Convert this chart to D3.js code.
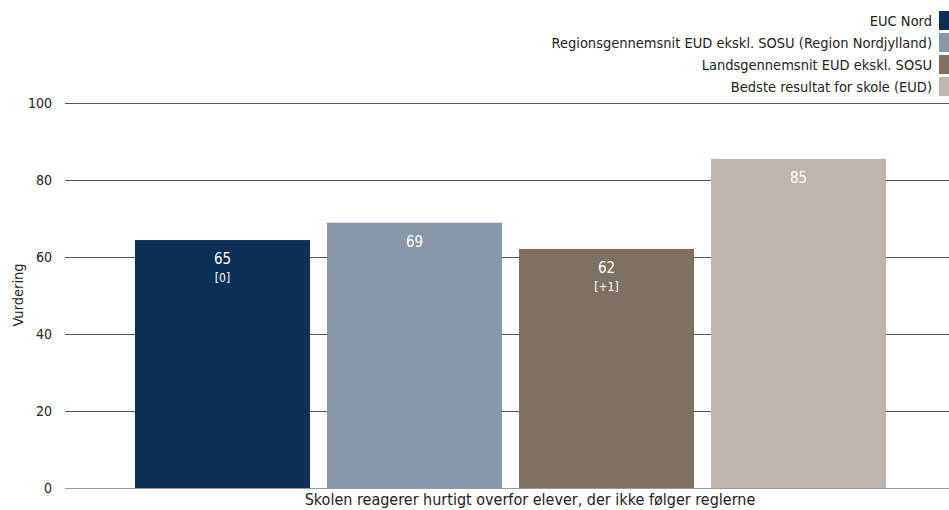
<!DOCTYPE html>
<html><head><meta charset="utf-8">
<script src="https://cdn.jsdelivr.net/npm/d3@7/dist/d3.min.js"></script>
<style>body{margin:0;background:#fff;overflow:hidden}svg{display:block;font-family:"DejaVu Sans Condensed","DejaVu Sans",sans-serif}</style>
</head><body><svg id="c" width="949" height="510"></svg>
<script>
const category = "Skolen reagerer hurtigt overfor elever, der ikke følger reglerne";
const series = ["EUC Nord","Regionsgennemsnit EUD ekskl. SOSU (Region Nordjylland)","Landsgennemsnit EUD ekskl. SOSU","Bedste resultat for skole (EUD)"];
const values = [64.4, 68.9, 62.1, 85.5];
const valueLabels = ["65","69","62","85"];
const changeLabels = ["[0]","","[+1]",""];
const colors = ["#0b2f56","#8798ad","#7e7161","#beb5af"];
const yTicks = [0,20,40,60,80,100];

const svg = d3.select("#c");
const y = d3.scaleLinear().domain([0,100]).range([488,103]);
const x = d3.scaleBand().domain(series).range([118,903]).padding(17/192);

// gridlines
svg.append("g").selectAll("line").data(yTicks).join("line")
  .attr("x1",65).attr("x2",949).attr("y1",d=>y(d)+0.5).attr("y2",d=>y(d)+0.5)
  .attr("stroke",d=>d===0?"#999":"#555").attr("stroke-width",1);
svg.append("g").selectAll("text").data(yTicks).join("text")
  .attr("x",52).attr("y",d=>y(d)).attr("dy","0.36em").attr("text-anchor","end")
  .attr("font-size",14).attr("fill","#222").text(d=>d);

// bars
const g = svg.append("g");
g.selectAll("rect").data(series).join("rect")
  .attr("x",d=>x(d)).attr("width",x.bandwidth())
  .attr("y",(d,i)=>y(values[i])).attr("height",(d,i)=>y(0)-y(values[i]))
  .attr("fill",(d,i)=>colors[i]);
g.selectAll("text.v").data(series).join("text").attr("class","v")
  .attr("x",d=>x(d)+x.bandwidth()/2).attr("y",(d,i)=>y(values[i])+24)
  .attr("text-anchor","middle").attr("font-size",15).attr("fill","#fff").text((d,i)=>valueLabels[i]);
g.selectAll("text.c").data(series).join("text").attr("class","c")
  .attr("x",d=>x(d)+x.bandwidth()/2).attr("y",(d,i)=>y(values[i])+42)
  .attr("text-anchor","middle").attr("font-size",12).attr("fill","#fff").text((d,i)=>changeLabels[i]);

// x label
svg.append("text").attr("x",530).attr("y",505).attr("text-anchor","middle")
  .attr("font-size",16).attr("fill","#222").text(category);
// y title
svg.append("text").attr("transform","translate(23,295) rotate(-90)").attr("text-anchor","middle")
  .attr("font-size",14.5).attr("fill","#222").text("Vurdering");

// legend
const lg = svg.append("g");
series.forEach((s,i)=>{
  const cy = 20.5 + i*22;
  lg.append("rect").attr("x",939).attr("y",cy-9.5).attr("width",12).attr("height",19).attr("fill",colors[i]);
  lg.append("text").attr("x",932).attr("y",cy).attr("dy","0.36em").attr("text-anchor","end")
    .attr("font-size",14.5).attr("fill","#222").text(s);
});
</script></body></html>
